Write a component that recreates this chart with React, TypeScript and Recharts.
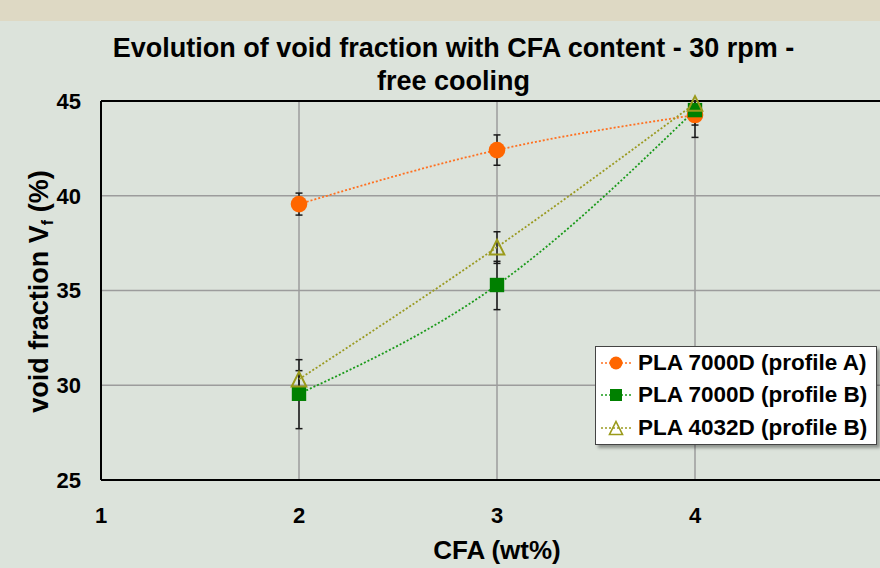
import React from 'react';
import {
  ComposedChart,
  Line,
  XAxis,
  YAxis,
  CartesianGrid,
  ErrorBar,
  Legend,
  ReferenceLine,
} from 'recharts';

const FONT = '"Liberation Sans", Arial, Helvetica, sans-serif';

// CFA content (wt%)
const cfa = [2, 3, 4];
// void fraction (%) and error bars [low, high]
const pla7000A = [39.56, 42.41, 44.26];
const pla7000AErr = [[0.58, 0.58], [0.8, 0.8], [1.18, 0.74]];
const pla7000B = [29.55, 35.29, 44.52];
const pla7000BErr = [[1.84, 1.8], [1.3, 1.25], [0.79, 0.48]];
const pla4032B = [30.32, 37.29, 44.87];
const pla4032BErr = [[0.45, 0.45], [0.86, 0.81], [0.3, 0.13]];

const xTicks = [1, 2, 3, 4];
const yTicks = [25, 30, 35, 40, 45];
const seriesNames = ['PLA 7000D (profile A)', 'PLA 7000D (profile B)', 'PLA 4032D (profile B)'];
const titleLines = ['Evolution of void fraction with CFA content - 30 rpm -', 'free cooling'];

const data = cfa.map((x, i) => ({
  x,
  a: pla7000A[i],
  aErr: pla7000AErr[i],
  b: pla7000B[i],
  bErr: pla7000BErr[i],
  c: pla4032B[i],
  cErr: pla4032BErr[i],
}));

const ORANGE = '#ff6600';
const ORANGE_LINE = '#ff7020';
const GREEN = '#008000';
const GREEN_LINE = '#1a9a1a';
const OLIVE = '#9a9a1a';
const OLIVE_LINE = '#9a9a22';

const CircleDot = (props: any) => {
  const { cx, cy } = props;
  if (cx == null || cy == null) return null;
  return <circle cx={cx} cy={cy} r={8.3} fill={ORANGE} />;
};

const SquareDot = (props: any) => {
  const { cx, cy } = props;
  if (cx == null || cy == null) return null;
  return <rect x={cx - 7.2} y={cy - 7.2} width={14.4} height={14.4} fill={GREEN} />;
};

const TriangleDot = (props: any) => {
  const { cx, cy } = props;
  if (cx == null || cy == null) return null;
  return (
    <path
      d={`M${cx},${cy - 7.3} L${cx + 7.3},${cy + 7.3} L${cx - 7.3},${cy + 7.3} Z`}
      fill="none"
      stroke={OLIVE}
      strokeWidth={2}
    />
  );
};

const legendMarkers = [
  { color: ORANGE_LINE, marker: (cx: number, cy: number) => <circle cx={cx} cy={cy} r={6.5} fill={ORANGE} /> },
  { color: GREEN_LINE, marker: (cx: number, cy: number) => <rect x={cx - 6} y={cy - 6} width={12} height={12} fill={GREEN} /> },
  {
    color: OLIVE_LINE,
    marker: (cx: number, cy: number) => (
      <path d={`M${cx},${cy - 6.5} L${cx + 6.5},${cy + 6.5} L${cx - 6.5},${cy + 6.5} Z`} fill="none" stroke={OLIVE} strokeWidth={1.6} />
    ),
  },
];

const renderLegend = () => (
  <div
    style={{
      width: 282,
      height: 99,
      boxSizing: 'border-box',
      background: '#ffffff',
      border: '1px solid #444',
      boxShadow: '3px 3px 3px rgba(0,0,0,0.35)',
      fontFamily: FONT,
    }}
  >
    {seriesNames.map((name, i) => (
      <div key={name} style={{ display: 'flex', alignItems: 'center', height: 32.3, paddingLeft: 4 }}>
        <svg width={32} height={20} style={{ display: 'block' }}>
          <line x1={1} y1={10} x2={31} y2={10} stroke={legendMarkers[i].color} strokeWidth={1.6} strokeDasharray="2 2" />
          {legendMarkers[i].marker(16, 10)}
        </svg>
        <span style={{ marginLeft: 6, fontSize: 22.5, fontWeight: 'bold', color: '#000', whiteSpace: 'nowrap' }}>{name}</span>
      </div>
    ))}
  </div>
);

const YLabel = (props: any) => {
  const vb = props.viewBox || { x: 41, y: 101, width: 60, height: 379 };
  const bx = vb.x + 7;
  const cy = vb.y + vb.height / 2 + 1;
  return (
    <text
      x={0}
      y={0}
      transform={`translate(${bx},${cy}) rotate(-90)`}
      textAnchor="middle"
      fontSize={27}
      fontWeight="bold"
      fontFamily={FONT}
      fill="#000"
    >
      void fraction V
      <tspan fontSize={16} dy={5}>f</tspan>
      <tspan dy={-5}> (%)</tspan>
    </text>
  );
};

export default function App() {
  return (
    <div
      style={{
        position: 'absolute',
        left: 0,
        top: 0,
        width: 880,
        height: 568,
        overflow: 'hidden',
        background: '#dce3db',
        fontFamily: FONT,
      }}
    >
      <div style={{ position: 'absolute', left: 0, top: 0, width: 880, height: 21, background: '#ded9c4' }} />
      <div style={{ position: 'absolute', left: 0, top: 0 }}>
        <ComposedChart
          width={900}
          height={568}
          data={data}
          margin={{ top: 101, right: 7, left: 41, bottom: 0 }}
        >
          <CartesianGrid stroke="#9c9c9c" strokeWidth={1.5} />
          <XAxis
            type="number"
            dataKey="x"
            domain={[1, 5]}
            ticks={xTicks}
            height={88}
            axisLine={{ stroke: '#000', strokeWidth: 2 }}
            tickLine={false}
            tickSize={0}
            tickMargin={27}
            tick={{ fill: '#000', fontSize: 22, fontWeight: 'bold', fontFamily: FONT }}
            label={{
              value: 'CFA (wt%)',
              position: 'insideBottom',
              offset: 9,
              fill: '#000',
              fontSize: 26,
              fontWeight: 'bold',
              fontFamily: FONT,
            }}
          />
          <YAxis
            type="number"
            domain={[25, 45]}
            ticks={yTicks}
            width={60}
            axisLine={{ stroke: '#000', strokeWidth: 2 }}
            tickLine={false}
            tickSize={0}
            tickMargin={20}
            tick={{ fill: '#000', fontSize: 22, fontWeight: 'bold', fontFamily: FONT }}
            label={<YLabel />}
          />
          <ReferenceLine y={45} stroke="#000" strokeWidth={2} />
          <Legend
            layout="vertical"
            align="center"
            verticalAlign="middle"
            content={renderLegend}
            wrapperStyle={{ left: 595, top: 346, width: 282, height: 99 }}
          />
          <Line
            name={seriesNames[0]}
            type="natural"
            dataKey="a"
            stroke={ORANGE_LINE}
            strokeWidth={1.8}
            strokeDasharray="2 2"
            dot={CircleDot}
            activeDot={false}
            isAnimationActive={false}
          >
            <ErrorBar dataKey="aErr" direction="y" width={3.5} stroke="#1a1a1a" strokeWidth={1.5} />
          </Line>
          <Line
            name={seriesNames[1]}
            type="natural"
            dataKey="b"
            stroke={GREEN_LINE}
            strokeWidth={1.8}
            strokeDasharray="2 2"
            dot={SquareDot}
            activeDot={false}
            isAnimationActive={false}
          >
            <ErrorBar dataKey="bErr" direction="y" width={3.5} stroke="#1a1a1a" strokeWidth={1.5} />
          </Line>
          <Line
            name={seriesNames[2]}
            type="natural"
            dataKey="c"
            stroke={OLIVE_LINE}
            strokeWidth={1.8}
            strokeDasharray="2 2"
            dot={TriangleDot}
            activeDot={false}
            isAnimationActive={false}
          >
            <ErrorBar dataKey="cErr" direction="y" width={3.5} stroke="#1a1a1a" strokeWidth={1.5} />
          </Line>
        </ComposedChart>
      </div>
      <svg
        width={880}
        height={100}
        style={{ position: 'absolute', left: 0, top: 0, pointerEvents: 'none' }}
      >
        <text x={453.5} y={56.7} textAnchor="middle" fontSize={27} fontWeight="bold" fontFamily={FONT} fill="#000">
          {titleLines[0]}
        </text>
        <text x={453.5} y={89.5} textAnchor="middle" fontSize={27} fontWeight="bold" fontFamily={FONT} fill="#000">
          {titleLines[1]}
        </text>
      </svg>
    </div>
  );
}
